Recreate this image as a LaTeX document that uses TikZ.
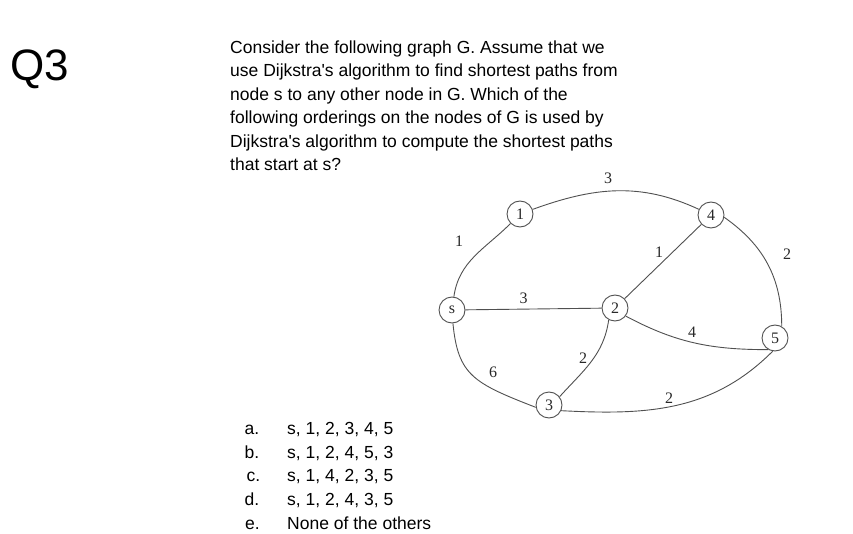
\documentclass[tikz,border=0pt]{standalone}
\usepackage{fontspec}
\setmainfont{Liberation Sans}
\newfontfamily\qfont{Liberation Sans}
\newfontfamily\grfont{Liberation Serif}
\definecolor{edgec}{RGB}{80,80,80}
\definecolor{labc}{RGB}{40,40,40}
\begin{document}
\begin{tikzpicture}[x=1pt,y=1pt,
  vert/.style={circle,draw=edgec,line width=0.9pt,minimum size=26pt,inner sep=0pt,
    font=\grfont\fontsize{16}{16}\selectfont,text=labc},
  edge/.style={draw=edgec,line width=0.9pt},
  wlab/.style={font=\grfont\fontsize{16}{16}\selectfont,text=labc,inner sep=0pt},
  qline/.style={anchor=base west,inner sep=0pt,font=\qfont\fontsize{17.5}{17.5}\selectfont},
  optl/.style={anchor=base west,inner sep=0pt,font=\qfont\fontsize{17.5}{17.5}\selectfont},
]
\useasboundingbox[fill=white] (0,0) rectangle (853,533);

% title and question
\node[anchor=base west,inner sep=0pt,font=\qfont\fontsize{44}{44}\selectfont] (q) at (10,452) {Q3};
\node[qline] (t1) at (230,479.7) {Consider the following graph G. Assume that we};
\node[qline] (t2) at (230,456.2) {use Dijkstra's algorithm to find shortest paths from};
\node[qline] (t3) at (230,432.7) {node s to any other node in G. Which of the};
\node[qline] (t4) at (230,409.2) {following orderings on the nodes of G is used by};
\node[qline] (t5) at (230,385.7) {Dijkstra's algorithm to compute the shortest paths};
\node[qline] (t6) at (230,362.2) {that start at s?};

% options
\node[optl] (oa) at (244.5,98.5) {a.};
\node[optl] (ob) at (244.5,74.5) {b.};
\node[optl] (oc) at (246.5,51.5) {c.};
\node[optl] (od) at (244.5,27.5) {d.};
\node[optl] (oe) at (245,3.5) {e.};
\node[optl] (pa) at (287,98.5) {s, 1, 2, 3, 4, 5};
\node[optl] (pb) at (287,74.5) {s, 1, 2, 4, 5, 3};
\node[optl] (pc) at (287,51.5) {s, 1, 4, 2, 3, 5};
\node[optl] (pd) at (287,27.5) {s, 1, 2, 4, 3, 5};
\node[optl] (pe) at (287,3.5) {None of the others};

% graph vertices
\node[vert] (s)  at (452,223) {s};
\node[vert] (n1) at (520,319) {1};
\node[vert] (n4) at (711,318) {4};
\node[vert] (n2) at (615,225) {2};
\node[vert] (n5) at (775,195) {5};
\node[vert] (n3) at (549,128) {3};

% edges
\draw[edge] (s) to[out=82,in=225] (n1);
\draw[edge] (n1) to[out=20,in=155] (n4);
\draw[edge] (n4.-10) to[out=-35,in=90] (n5.60);
\draw[edge] (s) -- (n2);
\draw[edge] (n2) -- (n4);
\draw[edge] (n2.-37) to[out=-28,in=180] (n5.240);
\draw[edge] (n2.-118) to[out=-98,in=48] (n3.38);
\draw[edge] (s.-86) .. controls (458,158) and (473,150) .. (n3.190);
\draw[edge] (n3.-25) to[out=-3,in=225] (n5.260);

% weights
\node[wlab] (w14) at (608,355) {3};
\node[wlab] (ws1) at (459,292) {1};
\node[wlab] (w24) at (659,281) {1};
\node[wlab] (w45) at (787,279) {2};
\node[wlab] (ws2) at (523.5,235) {3};
\node[wlab] (w25) at (692,201) {4};
\node[wlab] (w23) at (583,175) {2};
\node[wlab] (ws3) at (493,161) {6};
\node[wlab] (w35) at (669,135) {2};
\end{tikzpicture}
\end{document}
